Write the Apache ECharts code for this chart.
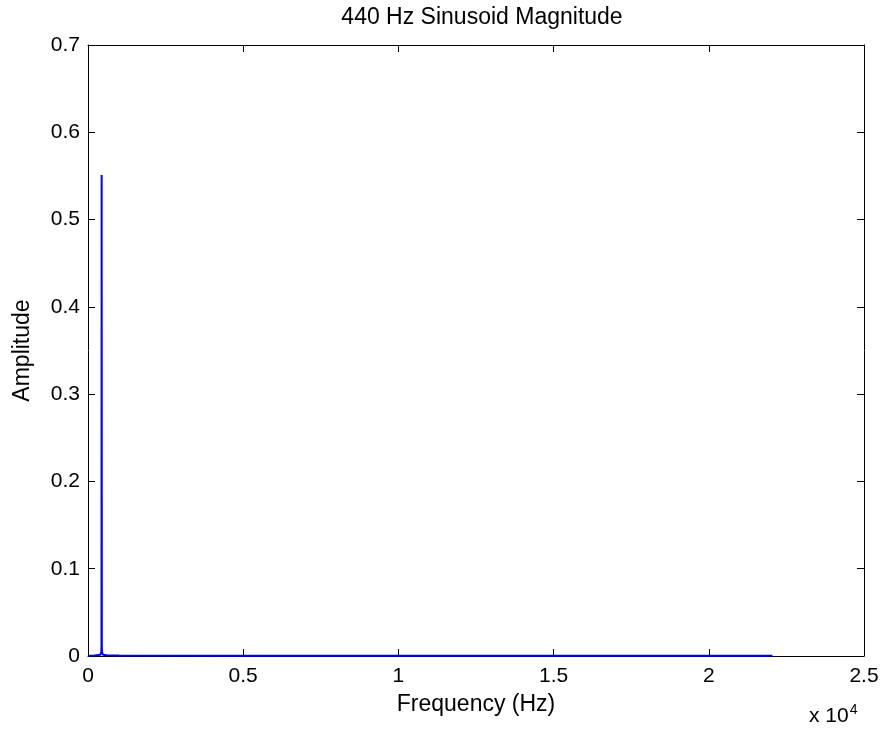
<!DOCTYPE html>
<html>
<head>
<meta charset="utf-8">
<script src="https://cdn.jsdelivr.net/npm/echarts@6/dist/echarts.min.js"></script>
<style>
  html, body { margin: 0; padding: 0; background: #fff; }
  #chart { width: 886px; height: 734px; }
</style>
</head>
<body>
<div id="chart"></div>
<script>
// Single-sided magnitude spectrum of a 440 Hz tone (Hz, amplitude)
const frequencies = [0, 200, 400, 420, 430, 435, 440, 445, 450, 460, 480, 600, 1000, 5000, 10000, 15000, 20000, 22050];
const amplitudes  = [0.0004, 0.0006, 0.0015, 0.003, 0.005, 0.012, 0.551, 0.012, 0.005, 0.003, 0.0015, 0.0008, 0.0005, 0.0003, 0.0002, 0.0002, 0.0002, 0.0002];
const xTicks = [0, 5000, 10000, 15000, 20000, 25000];
const yTicks = [0, 0.1, 0.2, 0.3, 0.4, 0.5, 0.6, 0.7];

const FONT = '"Liberation Sans", Arial, sans-serif';
const FS = 21;
const chart = echarts.init(document.getElementById('chart'));

const axisBase = {
  type: 'value',
  axisLine: { show: true, onZero: false, lineStyle: { color: '#000', width: 1 } },
  axisTick: { show: true, inside: true, length: 7, lineStyle: { color: '#000' } },
  splitLine: { show: false }
};

chart.setOption({
  animation: false,
  backgroundColor: '#fff',
  title: {
    text: '440 Hz Sinusoid Magnitude',
    left: 477, top: 1, textAlign: 'center',
    textStyle: { fontFamily: FONT, fontWeight: 'normal', fontSize: 23, color: '#000' }
  },
  grid: { left: 88, right: 22, top: 45, bottom: 78 },
  xAxis: [
    Object.assign({}, axisBase, {
      position: 'bottom', min: xTicks[0], max: xTicks[xTicks.length - 1], interval: 5000,
      name: 'Frequency (Hz)', nameLocation: 'middle', nameGap: 37,
      nameTextStyle: { fontFamily: FONT, fontSize: 23, color: '#000', verticalAlign: 'top' },
      axisLabel: { fontFamily: FONT, fontSize: FS, color: '#000', margin: 10,
        formatter: v => String(v / 10000) }
    }),
    Object.assign({}, axisBase, {
      position: 'top', min: xTicks[0], max: xTicks[xTicks.length - 1], interval: 5000,
      axisLabel: { show: false }
    })
  ],
  yAxis: [
    Object.assign({}, axisBase, {
      position: 'left', min: yTicks[0], max: yTicks[yTicks.length - 1], interval: 0.1,
      name: 'Amplitude', nameLocation: 'middle', nameGap: 54, nameRotate: 90,
      nameTextStyle: { fontFamily: FONT, fontSize: 23, color: '#000' },
      axisLabel: { fontFamily: FONT, fontSize: FS, color: '#000', margin: 8,
        formatter: v => String(Math.round(v * 10) / 10) }
    }),
    Object.assign({}, axisBase, {
      position: 'right', min: yTicks[0], max: yTicks[yTicks.length - 1], interval: 0.1,
      axisLabel: { show: false }
    })
  ],
  series: [{
    type: 'line',
    data: frequencies.map((f, i) => [f, amplitudes[i]]),
    showSymbol: false,
    lineStyle: { color: '#0000ff', width: 2 },
    clip: true
  }],
  graphic: [{
    type: 'text',
    left: 809, top: 703,
    style: {
      text: 'x 10{s|4}',
      rich: { s: { fontSize: 14, verticalAlign: 'top', padding: [0, 0, 12, 1], fontFamily: FONT, fill: '#000' } },
      fontFamily: FONT, fontSize: 21, fill: '#000'
    }
  }]
});
</script>
</body>
</html>
